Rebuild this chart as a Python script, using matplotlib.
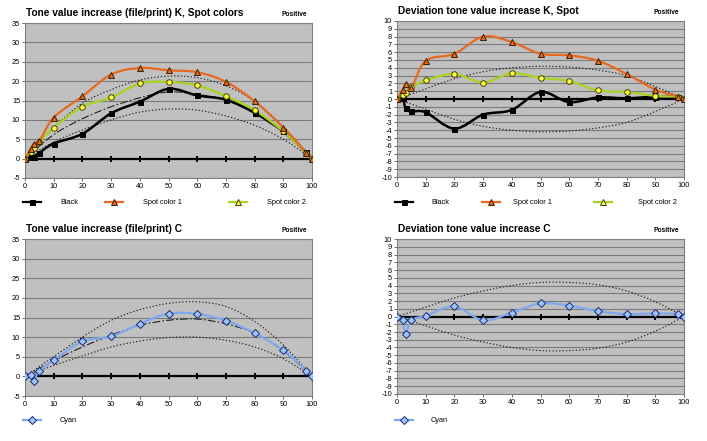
import numpy as np
import matplotlib
matplotlib.use("Agg")
import matplotlib.pyplot as plt
from matplotlib.path import Path
from matplotlib.patches import PathPatch
from matplotlib.lines import Line2D

plt.rcParams["font.family"] = ["Liberation Sans", "DejaVu Sans"]

# measuring points (tone value %)
x_pts = [0, 2, 3, 5, 10, 20, 30, 40, 50, 60, 70, 80, 90, 98, 100]
x_ref = [0, 10, 20, 30, 40, 50, 60, 70, 80, 90, 100]

# tone value increase K / spot
tvi_black = [0, 0.3, 0.5, 1.5, 3.9, 6.4, 11.7, 14.7, 18.0, 16.3, 15.2, 11.8, 7.0, 1.6, 0]
tvi_spot1 = [0, 2.5, 3.8, 4.5, 10.6, 16.1, 21.7, 23.4, 22.8, 22.3, 19.8, 14.8, 8.0, 1.5, 0]
tvi_spot2 = [0, 1.8, 2.7, 4.3, 8.0, 13.4, 15.8, 19.4, 19.8, 18.9, 16.1, 12.5, 7.0, 1.5, 0]
k_upper = [0, 8.0, 14.3, 17.8, 20.3, 21.3, 20.9, 18.8, 14.8, 8.2, 0]
k_mid = [0, 6.2, 10.3, 13.4, 15.7, 17.2, 16.6, 15.0, 11.8, 7.0, 0]
k_lower = [0, 4.3, 7.4, 10.0, 12.0, 12.8, 12.5, 11.0, 8.6, 5.0, 0]

# deviation K / spot
dev_black = [0, 0.1, -1.2, -1.6, -1.7, -3.8, -2.0, -1.4, 0.9, -0.4, 0.2, 0.1, 0.3, 0.3, 0]
dev_spot1 = [0, 1.2, 1.9, 1.4, 4.9, 5.8, 8.0, 7.3, 5.8, 5.6, 4.9, 3.2, 1.2, 0.3, 0]
dev_spot2 = [0, 0.5, 0.8, 1.5, 2.4, 3.2, 2.1, 3.3, 2.7, 2.3, 1.1, 0.9, 0.4, 0.3, 0]
dev_k_upper = [0, 1.3, 2.6, 3.5, 4.0, 4.2, 4.1, 3.7, 3.0, 1.6, 0]
dev_k_lower = [0, -1.3, -2.6, -3.5, -4.0, -4.2, -4.1, -3.7, -3.0, -1.6, 0]

# tone value increase C
tvi_cyan = [0, 0.3, -1.1, 1.4, 4.1, 8.9, 10.2, 13.4, 16.0, 15.9, 14.2, 11.0, 6.7, 1.5, 0]
c_upper = [0, 5.0, 10.0, 14.3, 17.0, 18.6, 19.0, 17.8, 14.0, 8.0, 0]
c_mid = [0, 4.0, 7.5, 10.5, 13.0, 14.3, 14.6, 13.4, 11.0, 6.5, 0]
c_lower = [0, 2.8, 5.2, 7.5, 9.0, 9.9, 10.0, 9.2, 7.5, 4.5, 0]

# deviation C
dev_cyan = [0, -0.5, -2.3, -0.5, 0.1, 1.3, -0.5, 0.5, 1.7, 1.4, 0.7, 0.3, 0.4, 0.3, 0]
dev_c_upper = [0, 1.2, 2.4, 3.3, 4.0, 4.4, 4.4, 4.1, 3.3, 1.9, 0]
dev_c_lower = [0, -1.2, -2.4, -3.3, -4.0, -4.4, -4.4, -4.1, -3.3, -1.9, 0]

ORANGE = "#E8691E"
GREEN = "#A8D41E"
CYAN = "#7FA8F0"
GRID = "#7a7a7a"


def smooth(ax, x, y, **kw):
    # excel style smoothed line: cubic bezier segments
    pts = np.column_stack([x, y]).astype(float)
    n = len(pts)
    verts = [pts[0]]
    codes = [Path.MOVETO]
    for i in range(n - 1):
        p0 = pts[i - 1] if i > 0 else pts[i]
        p1, p2 = pts[i], pts[i + 1]
        p3 = pts[i + 2] if i + 2 < n else pts[i + 1]
        verts += [p1 + (p2 - p0) / 6, p2 - (p3 - p1) / 6, p2]
        codes += [Path.CURVE4] * 3
    ax.add_patch(PathPatch(Path(verts, codes), fill=False, **kw))


def setup(ax, ymin, ymax, ystep, title):
    ax.set_facecolor("#C0C0C0")
    ax.set_xlim(0, 100)
    ax.set_ylim(ymin, ymax)
    ax.set_xticks(range(0, 101, 10))
    ax.set_yticks(np.arange(ymin, ymax + 0.1, ystep))
    ax.set_yticklabels([str(int(v)) for v in np.arange(ymin, ymax + 0.1, ystep)])
    ax.tick_params(labelsize=5.3, length=2, width=0.6, color="#555555", pad=1.5)
    ax.grid(axis="y", color=GRID, lw=0.8)
    ax.set_axisbelow(True)
    for s in ax.spines.values():
        s.set_color("#808080")
        s.set_linewidth(0.8)
    # zero axis with tick crosses
    ax.axhline(0, color="black", lw=1.6, zorder=2)
    ax.plot(range(10, 100, 10), [0] * 9, ls="none", marker="|", ms=5, mew=1.4,
            color="black", zorder=2)
    ax.text(0.005, 1.035, title, transform=ax.transAxes, fontsize=7.3,
            fontweight="bold", ha="left", va="bottom")
    ax.text(0.895, 1.035, "Positive", transform=ax.transAxes, fontsize=4.8,
            fontweight="bold", ha="left", va="bottom")


def series(ax, y, color, lw, marker, mfc, mec, ms):
    smooth(ax, x_pts, y, edgecolor=color, lw=lw, zorder=4)
    ax.plot(x_pts, y, ls="none", marker=marker, mfc=mfc, mec=mec, ms=ms,
            mew=0.7, zorder=5)


def refs(ax, curves):
    for y, style in curves:
        smooth(ax, x_ref, y, edgecolor="#202020", lw=0.8, linestyle=style, zorder=3)


def legend_item(fig, x, y, color, marker, mfc, mec, ms, label, tx):
    w = 18 / 707
    fig.add_artist(Line2D([x, x + w / 2, x + w], [y, y, y], color=color, lw=1.6,
                          marker=marker, markevery=[1], mfc=mfc, mec=mec, ms=ms,
                          mew=0.7, transform=fig.transFigure))
    fig.text(tx, y, label, fontsize=5.3, va="center", ha="left")


fig = plt.figure(figsize=(7.07, 4.41), dpi=100)
ax1 = fig.add_axes([0.0354, 0.5964, 0.406, 0.3514])
ax2 = fig.add_axes([0.5615, 0.5986, 0.406, 0.3538])
ax3 = fig.add_axes([0.0354, 0.102, 0.406, 0.356])
ax4 = fig.add_axes([0.5615, 0.1066, 0.406, 0.3514])

dotted = (0, (1.2, 1.8))
dashdot = (0, (7, 2, 1.5, 2))

# top left
setup(ax1, -5, 35, 5, "Tone value increase (file/print) K, Spot colors")
refs(ax1, [(k_upper, dotted), (k_mid, dashdot), (k_lower, dotted)])
series(ax1, tvi_black, "black", 1.8, "s", "black", "black", 3.6)
series(ax1, tvi_spot2, GREEN, 1.6, "o", "#FFFF40", "#404000", 4)
series(ax1, tvi_spot1, ORANGE, 1.6, "^", ORANGE, "#3a2000", 4)

# top right
setup(ax2, -10, 10, 1, "Deviation tone value increase K, Spot")
refs(ax2, [(dev_k_upper, dotted), (dev_k_lower, dotted)])
series(ax2, dev_black, "black", 1.8, "s", "black", "black", 3.6)
series(ax2, dev_spot2, GREEN, 1.6, "o", "#FFFF40", "#404000", 4)
series(ax2, dev_spot1, ORANGE, 1.6, "^", ORANGE, "#3a2000", 4)

# bottom left
setup(ax3, -5, 35, 5, "Tone value increase (file/print) C")
refs(ax3, [(c_upper, dotted), (c_mid, dashdot), (c_lower, dotted)])
series(ax3, tvi_cyan, CYAN, 1.6, "D", "#9CC4FF", "#1a2a70", 4)

# bottom right
setup(ax4, -10, 10, 1, "Deviation tone value increase C")
refs(ax4, [(dev_c_upper, dotted), (dev_c_lower, dotted)])
series(ax4, dev_cyan, CYAN, 1.6, "D", "#9CC4FF", "#1a2a70", 4)

# legends
ly = 1 - 202 / 441
legend_item(fig, 23 / 707, ly, "black", "s", "black", "black", 3.6, "Black", 60 / 707)
legend_item(fig, 105 / 707, ly, ORANGE, "^", ORANGE, "#3a2000", 4, "Spot color 1", 143 / 707)
legend_item(fig, 229 / 707, ly, GREEN, "^", "#FFFF40", "#404000", 4, "Spot color 2", 267 / 707)
legend_item(fig, 395 / 707, ly, "black", "s", "black", "black", 3.6, "Black", 431 / 707)
legend_item(fig, 482 / 707, ly, ORANGE, "^", ORANGE, "#3a2000", 4, "Spot color 1", 513 / 707)
legend_item(fig, 594 / 707, ly, GREEN, "^", "#FFFF40", "#404000", 4, "Spot color 2", 638 / 707)
ly2 = 1 - 420 / 441
legend_item(fig, 23 / 707, ly2, CYAN, "D", "#9CC4FF", "#1a2a70", 4, "Cyan", 60 / 707)
legend_item(fig, 395 / 707, ly2, CYAN, "D", "#9CC4FF", "#1a2a70", 4, "Cyan", 431 / 707)

fig.savefig("out.png", dpi=100)
